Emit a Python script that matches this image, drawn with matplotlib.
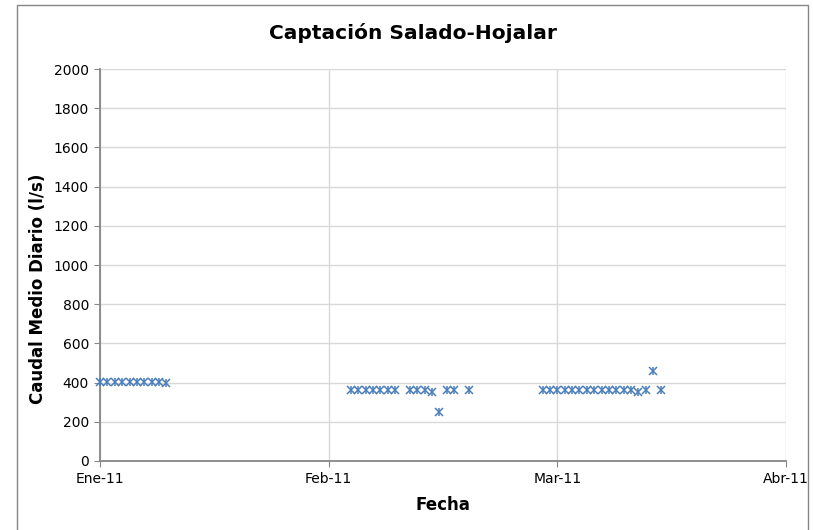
import datetime as dt
import matplotlib
matplotlib.use('Agg')
import matplotlib.pyplot as plt
from matplotlib.patches import Rectangle

# DATA (days counted from 1 Jan 2011)
START = dt.date(2011, 1, 1)
dias = [0, 1, 2, 3, 4, 5, 6, 7, 8, 9,
        34, 35, 36, 37, 38, 39, 40, 42, 43, 44, 45, 46, 47, 48, 50,
        60, 61, 62, 63, 64, 65, 66, 67, 68, 69, 70, 71, 72, 73, 74, 75, 76]
caudal = [402, 402, 402, 402, 402, 402, 402, 402, 402, 400,
          360, 360, 360, 360, 360, 360, 360, 360, 360, 360, 350, 248, 360, 360, 360,
          360, 360, 360, 360, 360, 360, 360, 360, 360, 360, 360, 360, 360, 350, 360, 460, 360]

# axis in steps of 31 days, as in the original sheet
tick_dias = [0, 31, 62, 93]
tick_labels = ['Ene-11', 'Feb-11', 'Mar-11', 'Abr-11']
y_ticks = list(range(0, 2001, 200))

BLUE = '#4A7EBB'
AXIS_GRAY = '#868686'
GRID_GRAY = '#D9D9D9'

fechas = [START + dt.timedelta(days=d) for d in dias]
tick_fechas = [START + dt.timedelta(days=d) for d in tick_dias]

fig = plt.figure(figsize=(8.13, 5.30), dpi=100)
ax = fig.add_axes([100 / 813, 1 - 461 / 530, 686 / 813, 392 / 530])

# Excel style star marker: an x with a vertical bar
for mk in ['x', '|']:
    ax.plot(fechas, caudal, ls='none', marker=mk, ms=5.5, mew=1.1,
            color=BLUE, clip_on=False, zorder=3)

ax.set_xlim(tick_fechas[0], tick_fechas[-1])
ax.set_ylim(0, 2000)
ax.set_xticks(tick_fechas)
ax.set_xticklabels(tick_labels)
ax.set_yticks(y_ticks)

ax.grid(True, color=GRID_GRAY, lw=1)
ax.set_axisbelow(True)
for side in ['top', 'right']:
    ax.spines[side].set_visible(False)
for side in ['left', 'bottom']:
    ax.spines[side].set_color(AXIS_GRAY)
    ax.spines[side].set_linewidth(1.3)
ax.tick_params(direction='out', length=4, color=AXIS_GRAY, labelsize=10, pad=4)
ax.tick_params(axis='x', pad=4)

ax.set_xlabel('Fecha', fontsize=12, fontweight='bold', labelpad=7)
ax.set_ylabel('Caudal Medio Diario (l/s)', fontsize=12, fontweight='bold')
ax.yaxis.set_label_coords(-0.077, 0.44)
fig.text(413 / 813, 1 - 33 / 530, 'Captación Salado-Hojalar', ha='center', va='center',
         fontsize=14.5, fontweight='bold')

# chart area border
fig.patches.append(Rectangle((17 / 813, -0.02), (808 - 17) / 813, 1 - 5 / 530 + 0.02,
                             transform=fig.transFigure, fill=False,
                             ec=AXIS_GRAY, lw=1))

fig.savefig('out.png', dpi=100)
